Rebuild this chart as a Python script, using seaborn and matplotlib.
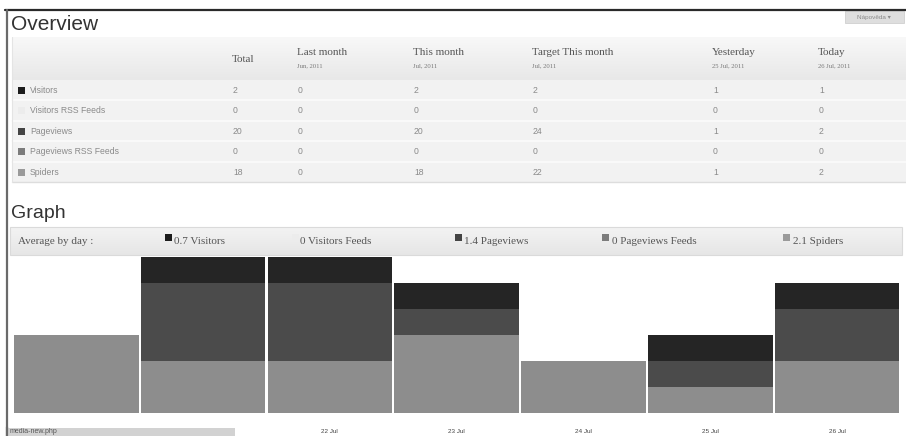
import numpy as np
import pandas as pd
import matplotlib
matplotlib.use("Agg")
import matplotlib.pyplot as plt
from matplotlib.patches import Rectangle
import seaborn as sns

# ---- daily graph data -------------------------------------------------
days = ["20 Jul", "21 Jul", "22 Jul", "23 Jul", "24 Jul", "25 Jul", "26 Jul"]
spiders = [3, 2, 2, 3, 2, 1, 2]
pageviews = [0, 3, 3, 1, 0, 1, 2]
visitors = [0, 1, 1, 1, 0, 1, 1]
visitors_feeds = [0, 0, 0, 0, 0, 0, 0]
pageviews_feeds = [0, 0, 0, 0, 0, 0, 0]

# ---- overview table data ----------------------------------------------
row_labels = ["Visitors", "Visitors RSS Feeds", "Pageviews",
              "Pageviews RSS Feeds", "Spiders"]
col_titles = ["Total", "Last month", "This month", "Target This month",
              "Yesterday", "Today"]
col_subtitles = ["", "Jun, 2011", "Jul, 2011", "Jul, 2011",
                 "25 Jul, 2011", "26 Jul, 2011"]
total = [2, 0, 20, 0, 18]
last_month = [0, 0, 0, 0, 0]
this_month = [2, 0, 20, 0, 18]
target_this_month = [2, 0, 24, 0, 22]
yesterday = [1, 0, 1, 0, 1]
today = [1, 0, 2, 0, 2]

legend_names = ["Visitors", "Visitors Feeds", "Pageviews",
                "Pageviews Feeds", "Spiders"]

# ---- styling ----------------------------------------------------------
C_VIS, C_PV, C_SP = "#252525", "#4b4b4b", "#8d8d8d"
square_colors = ["#1c1c1c", "#ececec", "#444444", "#7c7c7c", "#9a9a9a"]
SANS = ["Liberation Sans", "DejaVu Sans"]
SERIF = ["Liberation Serif", "DejaVu Serif"]

sns.set_theme(style="white")
plt.rcParams["font.family"] = SANS

W, H = 906, 436
fig = plt.figure(figsize=(W / 100, H / 100), dpi=100)
fig.patch.set_facecolor("white")

# background canvas in pixel coordinates (y grows downward)
bg = fig.add_axes([0, 0, 1, 1], zorder=-1)
bg.set_xlim(0, W)
bg.set_ylim(H, 0)
bg.axis("off")


def band(ax, x0, x1, y0, y1, top, bottom, edge=None):
    grad = np.linspace(0, 1, 64)[:, None]
    c0 = np.array(matplotlib.colors.to_rgb(top))
    c1 = np.array(matplotlib.colors.to_rgb(bottom))
    img = c0[None, None, :] * (1 - grad[..., None]) + c1[None, None, :] * grad[..., None]
    ax.imshow(img, extent=(x0, x1, y1, y0), aspect="auto", zorder=1,
              interpolation="bilinear")
    if edge:
        ax.add_patch(Rectangle((x0, y0), x1 - x0, y1 - y0, fill=False,
                               edgecolor=edge, lw=0.8, zorder=2))


# window frame
bg.plot([5, W], [10, 10], color="#2a2a2a", lw=1.6, zorder=5)
bg.plot([7, 7], [10, H], color="#6a6a6a", lw=1.6, zorder=5)

# help tab
bg.add_patch(Rectangle((845, 11), 59, 12, facecolor="#dedede",
                       edgecolor="#d0d0d0", lw=0.6, zorder=3))
bg.text(874, 17, "Nápověda ▾", fontsize=4.6, color="#8a8a8a",
        ha="center", va="center", zorder=4)

# ---- Overview ---------------------------------------------------------
bg.text(11, 24, "Overview", fontsize=15, color="#333333",
        ha="left", va="center")

band(bg, 12, W, 37, 80, "#f8f8f8", "#e8e8e8")
bg.add_patch(Rectangle((12, 80), W - 12, 102, facecolor="#f2f2f2",
                       edgecolor="none", zorder=1))
row_edges = [80, 100.5, 121, 141.5, 162, 182]
for y in row_edges[1:-1]:
    bg.plot([12, W], [y, y], color="#fbfbfb", lw=1.2, zorder=2)
bg.plot([12, W], [182, 182], color="#dddddd", lw=1.0, zorder=2)
bg.plot([12, 12], [37, 182], color="#e4e4e4", lw=0.8, zorder=2)

col_x = [232, 297, 413, 532, 712, 818]
for x, title, sub in zip(col_x, col_titles, col_subtitles):
    if sub:
        bg.text(x, 52.5, title, fontsize=8, color="#555555",
                family=SERIF, ha="left", va="center", zorder=3)
        bg.text(x, 65.5, sub, fontsize=4.8, color="#777777",
                family=SERIF, ha="left", va="center", zorder=3)
    else:
        bg.text(x, 60, title, fontsize=8, color="#555555",
                family=SERIF, ha="left", va="center", zorder=3)

columns = [total, last_month, this_month, target_this_month, yesterday, today]
for i, label in enumerate(row_labels):
    yc = (row_edges[i] + row_edges[i + 1]) / 2
    bg.add_patch(Rectangle((18, yc - 3.5), 7, 7, facecolor=square_colors[i],
                           edgecolor="none", zorder=3))
    bg.text(30, yc, label, fontsize=6.2, color="#8a8a8a",
            ha="left", va="center", zorder=3)
    for x, col in zip(col_x, columns):
        bg.text(x + 1, yc, str(col[i]), fontsize=6.2, color="#8a8a8a",
                ha="left", va="center", zorder=3)

# ---- Graph ------------------------------------------------------------
bg.text(11, 213, "Graph", fontsize=14, color="#333333",
        ha="left", va="center")

band(bg, 10, 902, 227, 255, "#f3f3f3", "#e6e6e6", edge="#dadada")
bg.text(18, 241, "Average by day :", fontsize=8, color="#555555",
        family=SERIF, ha="left", va="center", zorder=3)

series_all = [visitors, visitors_feeds, pageviews, pageviews_feeds, spiders]
averages = [np.mean(s) for s in series_all]
legend_pos = [(165, 174), (292, 300), (455, 464), (602, 612), (783, 793)]
for (sx, tx), name, avg, sc in zip(legend_pos, legend_names, averages,
                                    square_colors):
    txt = f"{avg:.1f}" if avg else "0"
    bg.add_patch(Rectangle((sx, 234), 7, 7, facecolor=sc,
                           edgecolor="none", zorder=3))
    bg.text(tx, 241, f"{txt} {name}", fontsize=8, color="#555555",
            family=SERIF, ha="left", va="center", zorder=3)

# stacked daily bars: draw cumulative totals back to front
df = pd.DataFrame({"day": days, "spiders": spiders,
                   "pageviews": pageviews, "visitors": visitors})
df["spiders_pageviews"] = df["spiders"] + df["pageviews"]
df["all_hits"] = df["spiders_pageviews"] + df["visitors"]

spacing = 126.8
ax_left, ax_base, ax_h = 12.85, 412.7, 155.4
ax = fig.add_axes([ax_left / W, (H - ax_base) / H, 7 * spacing / W, ax_h / H])
ax.patch.set_alpha(0)
for col, color in [("all_hits", C_VIS), ("spiders_pageviews", C_PV),
                   ("spiders", C_SP)]:
    sns.barplot(data=df, x="day", y=col, order=days, color=color,
                saturation=1, width=0.982, errorbar=None, linewidth=0, ax=ax)
ax.set_xlim(-0.5, len(days) - 0.5)
ax.set_ylim(0, 6)
ax.set_xlabel("")
ax.set_ylabel("")
ax.set_yticks([])
ax.tick_params(axis="x", length=0, pad=12, labelsize=4.6,
               labelcolor="#444444")
sns.despine(ax=ax, left=True, bottom=True)

# browser status strip over the lower-left corner
ov = fig.add_axes([0, 0, 1, 1], zorder=10)
ov.set_xlim(0, W)
ov.set_ylim(H, 0)
ov.axis("off")
ov.patch.set_alpha(0)
ov.add_patch(Rectangle((8, 427.5), 227, 10, facecolor="#d2d2d2",
                       edgecolor="none"))
ov.text(10, 431.8, "media-new.php", fontsize=5, color="#555555",
        ha="left", va="center")
ov.plot([7, 7], [427, H], color="#6a6a6a", lw=1.6)

fig.savefig("out.png", dpi=100)
